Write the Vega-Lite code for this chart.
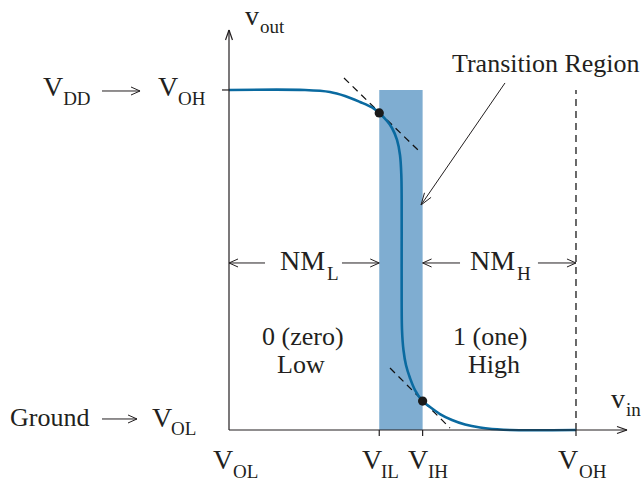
{
  "$schema": "https://vega.github.io/schema/vega-lite/v6.json",
  "autosize": "none",
  "width": 398,
  "height": 400,
  "padding": {"left": 229, "top": 30, "right": 16, "bottom": 53},
  "background": "white",
  "config": {"view": {"stroke": null}, "text": {"font": "Liberation Serif"}},
  "datasets": {
    "curve": [
      {"i": 0, "x": 0, "y": 5}, {"i": 1, "x": 1.095, "y": 5}, {"i": 2, "x": 1.455, "y": 4.971},
      {"i": 3, "x": 1.671, "y": 4.912}, {"i": 4, "x": 1.888, "y": 4.824}, {"i": 5, "x": 2.061, "y": 4.743},
      {"i": 6, "x": 2.165, "y": 4.662}, {"i": 7, "x": 2.277, "y": 4.544}, {"i": 8, "x": 2.349, "y": 4.441},
      {"i": 9, "x": 2.421, "y": 4.265}, {"i": 10, "x": 2.464, "y": 4.044}, {"i": 11, "x": 2.483, "y": 3.75},
      {"i": 12, "x": 2.488, "y": 3.382}, {"i": 13, "x": 2.488, "y": 2.647}, {"i": 14, "x": 2.488, "y": 1.912},
      {"i": 15, "x": 2.493, "y": 1.471}, {"i": 16, "x": 2.514, "y": 1.176}, {"i": 17, "x": 2.55, "y": 0.956},
      {"i": 18, "x": 2.608, "y": 0.765}, {"i": 19, "x": 2.68, "y": 0.588}, {"i": 20, "x": 2.79, "y": 0.426},
      {"i": 21, "x": 2.896, "y": 0.338}, {"i": 22, "x": 3.04, "y": 0.235}, {"i": 23, "x": 3.213, "y": 0.147},
      {"i": 24, "x": 3.401, "y": 0.081}, {"i": 25, "x": 3.617, "y": 0.037}, {"i": 26, "x": 3.862, "y": 0.01},
      {"i": 27, "x": 4.049, "y": 0}, {"i": 28, "x": 5, "y": 0}
    ],
    "region": [{"x": 2.165, "x2": 2.79, "y": 0, "y2": 5}],
    "points": [{"x": 2.165, "y": 4.662}, {"x": 2.79, "y": 0.426}],
    "dashed": [
      {"x": 1.657, "y": 5.176, "x2": 2.723, "y2": 4.118},
      {"x": 2.32, "y": 0.912, "x2": 3.184, "y2": 0.029},
      {"x": 5, "y": 0, "x2": 5, "y2": 5}
    ],
    "axes": [
      {"x": 0, "y": 0, "x2": 0, "y2": 5.882},
      {"x": 0, "y": 5.882, "x2": -0.05, "y2": 5.735},
      {"x": 0, "y": 5.882, "x2": 0.05, "y2": 5.735},
      {"x": 0, "y": 0, "x2": 5.735, "y2": 0},
      {"x": 5.735, "y": 0, "x2": 5.591, "y2": 0.051},
      {"x": 5.735, "y": 0, "x2": 5.591, "y2": -0.051},
      {"x": -0.101, "y": 5, "x2": 0, "y2": 5},
      {"x": 2.165, "y": 0, "x2": 2.165, "y2": -0.088},
      {"x": 2.79, "y": 0, "x2": 2.79, "y2": -0.088},
      {"x": 5, "y": 0, "x2": 5, "y2": -0.088}
    ],
    "arrows": [
      {"x": -1.83, "y": 4.985, "x2": -1.282, "y2": 4.985},
      {"x": -1.282, "y": 4.985, "x2": -1.412, "y2": 5.044},
      {"x": -1.282, "y": 4.985, "x2": -1.412, "y2": 4.926},
      {"x": -1.83, "y": 0.162, "x2": -1.326, "y2": 0.162},
      {"x": -1.326, "y": 0.162, "x2": -1.455, "y2": 0.221},
      {"x": -1.326, "y": 0.162, "x2": -1.455, "y2": 0.103},
      {"x": 0, "y": 2.456, "x2": 0.519, "y2": 2.456},
      {"x": 0, "y": 2.456, "x2": 0.13, "y2": 2.515},
      {"x": 0, "y": 2.456, "x2": 0.13, "y2": 2.397},
      {"x": 1.628, "y": 2.456, "x2": 2.165, "y2": 2.456},
      {"x": 2.165, "y": 2.456, "x2": 2.035, "y2": 2.515},
      {"x": 2.165, "y": 2.456, "x2": 2.035, "y2": 2.397},
      {"x": 2.79, "y": 2.456, "x2": 3.329, "y2": 2.456},
      {"x": 2.79, "y": 2.456, "x2": 2.919, "y2": 2.515},
      {"x": 2.79, "y": 2.456, "x2": 2.919, "y2": 2.397},
      {"x": 4.452, "y": 2.456, "x2": 5, "y2": 2.456},
      {"x": 5, "y": 2.456, "x2": 4.87, "y2": 2.515},
      {"x": 5, "y": 2.456, "x2": 4.87, "y2": 2.397},
      {"x": 3.977, "y": 5.103, "x2": 2.767, "y2": 3.309},
      {"x": 2.767, "y": 3.309, "x2": 2.912, "y2": 3.421},
      {"x": 2.767, "y": 3.309, "x2": 2.817, "y2": 3.488}
    ],
    "words": [
      {"x": -3.156, "y": 0.059, "text": "Ground"},
      {"x": 3.213, "y": 5.265, "text": "Transition Region"},
      {"x": 0.476, "y": 1.25, "text": "0 (zero)"},
      {"x": 0.692, "y": 0.838, "text": "Low"},
      {"x": 3.228, "y": 1.25, "text": "1 (one)"},
      {"x": 3.444, "y": 0.838, "text": "High"}
    ],
    "symbols": [
      {"x": -2.68, "y": 4.912, "text": "V"},
      {"x": -1.023, "y": 4.912, "text": "V"},
      {"x": -1.11, "y": 0.044, "text": "V"},
      {"x": -0.231, "y": -0.574, "text": "V"},
      {"x": 1.916, "y": -0.574, "text": "V"},
      {"x": 2.579, "y": -0.574, "text": "V"},
      {"x": 4.741, "y": -0.574, "text": "V"},
      {"x": 0.231, "y": 5.956, "text": "v"},
      {"x": 5.504, "y": 0.324, "text": "v"},
      {"x": 0.735, "y": 2.353, "text": "NM"},
      {"x": 3.473, "y": 2.353, "text": "NM"}
    ],
    "subs": [
      {"x": -2.39, "y": 4.779, "text": "DD"},
      {"x": -0.735, "y": 4.779, "text": "OH"},
      {"x": -0.835, "y": -0.074, "text": "OL"},
      {"x": 0.058, "y": -0.706, "text": "OL"},
      {"x": 2.19, "y": -0.706, "text": "IL"},
      {"x": 2.868, "y": -0.706, "text": "IH"},
      {"x": 5.044, "y": -0.706, "text": "OH"},
      {"x": 0.447, "y": 5.838, "text": "out"},
      {"x": 5.72, "y": 0.206, "text": "in"},
      {"x": 1.412, "y": 2.206, "text": "L"},
      {"x": 4.15, "y": 2.206, "text": "H"}
    ]
  },
  "layer": [
    {
      "data": {"name": "region"},
      "mark": {"type": "rect", "color": "#7fadd1"},
      "encoding": {
        "x": {"field": "x", "type": "quantitative", "scale": {"domain": [0, 5.735], "nice": false, "zero": false}, "axis": null},
        "x2": {"field": "x2"},
        "y": {"field": "y", "type": "quantitative", "scale": {"domain": [0, 5.882], "nice": false, "zero": false}, "axis": null},
        "y2": {"field": "y2"}
      }
    },
    {
      "data": {"name": "dashed"},
      "mark": {"type": "rule", "color": "#111111", "strokeWidth": 1.25, "strokeDash": [7, 5]},
      "encoding": {
        "x": {"field": "x", "type": "quantitative"},
        "y": {"field": "y", "type": "quantitative"},
        "x2": {"field": "x2"},
        "y2": {"field": "y2"}
      }
    },
    {
      "data": {"name": "curve"},
      "mark": {"type": "line", "color": "#0a6aa0", "strokeWidth": 2.6, "interpolate": "catmull-rom"},
      "encoding": {
        "x": {"field": "x", "type": "quantitative"},
        "y": {"field": "y", "type": "quantitative"},
        "order": {"field": "i", "type": "quantitative"}
      }
    },
    {
      "data": {"name": "axes"},
      "mark": {"type": "rule", "color": "#231f20", "strokeWidth": 1.2},
      "encoding": {
        "x": {"field": "x", "type": "quantitative"},
        "y": {"field": "y", "type": "quantitative"},
        "x2": {"field": "x2"},
        "y2": {"field": "y2"}
      }
    },
    {
      "data": {"name": "arrows"},
      "mark": {"type": "rule", "color": "#231f20", "strokeWidth": 1},
      "encoding": {
        "x": {"field": "x", "type": "quantitative"},
        "y": {"field": "y", "type": "quantitative"},
        "x2": {"field": "x2"},
        "y2": {"field": "y2"}
      }
    },
    {
      "data": {"name": "points"},
      "mark": {"type": "circle", "color": "#1a1a1a", "opacity": 1, "size": 85},
      "encoding": {
        "x": {"field": "x", "type": "quantitative"},
        "y": {"field": "y", "type": "quantitative"}
      }
    },
    {
      "data": {"name": "words"},
      "mark": {"type": "text", "align": "left", "baseline": "alphabetic", "fontSize": 26, "color": "#231f20"},
      "encoding": {
        "x": {"field": "x", "type": "quantitative"},
        "y": {"field": "y", "type": "quantitative"},
        "text": {"field": "text"}
      }
    },
    {
      "data": {"name": "symbols"},
      "mark": {"type": "text", "align": "left", "baseline": "alphabetic", "fontSize": 28, "color": "#231f20"},
      "encoding": {
        "x": {"field": "x", "type": "quantitative"},
        "y": {"field": "y", "type": "quantitative"},
        "text": {"field": "text"}
      }
    },
    {
      "data": {"name": "subs"},
      "mark": {"type": "text", "align": "left", "baseline": "alphabetic", "fontSize": 19, "color": "#231f20"},
      "encoding": {
        "x": {"field": "x", "type": "quantitative"},
        "y": {"field": "y", "type": "quantitative"},
        "text": {"field": "text"}
      }
    }
  ]
}
